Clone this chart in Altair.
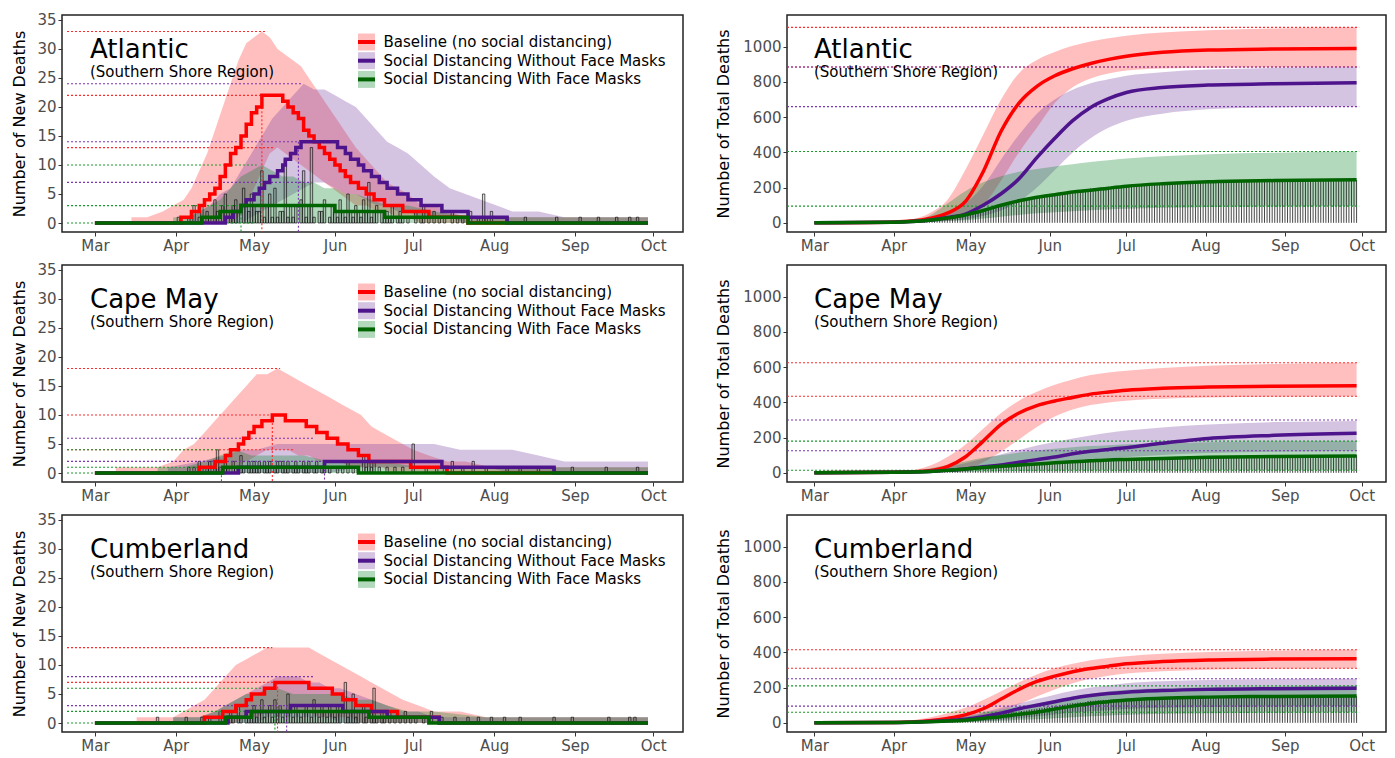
import altair as alt
import pandas as pd

# ---------------- categories / text ----------------
SCEN = ["red", "pur", "grn"]
SCEN_LABELS = ["Baseline (no social distancing)",
               "Social Distancing Without Face Masks",
               "Social Distancing With Face Masks"]
REGIONS = ["Atlantic", "Cape May", "Cumberland"]
SUBTITLE = "(Southern Shore Region)"
MONTH_TICKS = [3, 4, 5, 6, 7, 8, 9, 10]
NEW_TICKS = [0, 5, 10, 15, 20, 25, 30, 35]
TOT_TICKS = [0, 200, 400, 600, 800, 1000]

# days are counted from 1 March 2020
# ---------------- Atlantic: new deaths ----------------
ATL_RED_MED_D = [0, 33, 37, 40, 42, 44, 46, 48, 50, 52, 54, 56, 58, 60, 62, 64, 72, 74, 76, 78, 80, 82, 84, 86, 88, 90, 92, 94, 96, 98, 101, 104, 107, 111, 118, 128, 143, 212]
ATL_RED_MED_V = [0, 1, 2, 3, 4, 5, 6, 8, 10, 12, 13, 15, 17, 19, 20, 22, 21, 20, 19, 18, 16, 15, 14, 13, 12, 11, 10, 9, 8, 7, 6, 5, 4, 3, 2, 1, 0, 0]
ATL_PUR_MED_D = [0, 50, 53, 56, 58, 61, 63, 65, 67, 70, 72, 73, 75, 77, 79, 93, 96, 98, 101, 103, 106, 109, 112, 116, 120, 125, 133, 143, 158, 212]
ATL_PUR_MED_V = [0, 1, 2, 3, 4, 5, 6, 7, 8, 9, 10, 11, 12, 13, 14, 13, 12, 11, 10, 9, 8, 7, 6, 5, 4, 3, 2, 1, 0, 0]
ATL_GRN_MED_D = [0, 41, 48, 56, 92, 111, 143, 212]
ATL_GRN_MED_V = [0, 1, 2, 3, 2, 1, 0, 0]
ATL_RED_BAND_D = [14, 20, 26, 30, 34, 37, 40, 43, 46, 49, 52, 55, 58, 61, 64, 67, 70, 73, 76, 79, 82, 85, 88, 91, 94, 97, 100, 104, 108, 112, 116, 120, 125, 130, 136, 142, 150, 212]
ATL_RED_BAND_LO = [0, 0, 0, 0, 0, 0, 0, 0, 0, 0, 0, 1, 3, 6, 9, 12, 13, 12, 11, 10, 9, 8, 7, 6, 5, 4, 3, 3, 2, 2, 1, 1, 0, 0, 0, 0, 0, 0]
ATL_RED_BAND_HI = [1, 1, 2, 3, 4, 6, 9, 12, 16, 20, 24, 28, 31, 32, 33, 32, 30, 29, 28, 27, 25, 23, 21, 19, 17, 15, 13, 11, 9, 7, 6, 5, 3, 3, 2, 1, 1, 1]
ATL_PUR_BAND_D = [36, 40, 44, 48, 52, 56, 60, 64, 68, 72, 76, 80, 84, 88, 92, 96, 100, 104, 108, 112, 116, 120, 125, 130, 136, 142, 148, 154, 160, 170, 180, 190, 212]
ATL_PUR_BAND_LO = [0, 0, 0, 0, 0, 0, 1, 2, 3, 4, 5, 6, 7, 7, 6, 5, 5, 4, 3, 3, 2, 2, 1, 1, 1, 0, 0, 0, 0, 0, 0, 0, 0]
ATL_PUR_BAND_HI = [1, 2, 3, 5, 6, 9, 12, 15, 18, 20, 22, 24, 23, 23, 22, 21, 20, 18, 16, 14, 13, 12, 10, 8, 6, 5, 4, 3, 2, 2, 1, 1, 1]
ATL_GRN_BAND_D = [30, 36, 40, 44, 48, 52, 56, 60, 64, 68, 72, 76, 80, 84, 88, 92, 96, 100, 106, 112, 120, 130, 145, 212]
ATL_GRN_BAND_LO = [0, 0, 0, 0, 0, 0, 0, 0, 0, 0, 0, 0, 0, 0, 0, 0, 0, 0, 0, 0, 0, 0, 0, 0]
ATL_GRN_BAND_HI = [1, 1, 2, 3, 4, 6, 8, 9, 10, 9, 8, 8, 7, 7, 6, 6, 5, 5, 4, 3, 3, 2, 1, 1]
ATL_OBS = [(32, 1), (36, 1), (38, 3), (40, 1), (41, 3), (43, 2), (44, 1), (46, 4), (47, 2), (49, 3), (50, 5),
           (52, 2), (53, 3), (54, 4), (55, 2), (57, 6), (58, 3), (59, 2), (60, 5),
           (61, 3), (62, 2), (63, 2), (64, 9), (65, 1), (66, 3), (67, 5), (68, 1), (69, 6), (70, 1), (71, 2),
           (72, 2), (73, 11), (74, 1), (75, 3), (76, 1), (77, 3), (79, 4), (80, 9), (81, 1), (82, 3), (83, 13),
           (84, 1), (86, 2), (87, 2), (88, 4), (90, 1), (91, 3),
           (92, 2), (93, 1), (94, 4), (95, 2), (96, 1), (97, 5), (98, 2), (99, 1), (100, 3), (101, 2), (102, 1),
           (103, 4), (104, 2), (105, 7), (106, 1), (107, 2), (108, 3), (110, 2), (111, 1), (112, 2), (113, 1),
           (114, 3), (116, 1), (117, 2), (118, 1), (120, 1),
           (123, 2), (125, 1), (126, 3), (128, 1), (130, 2), (132, 1), (134, 1), (137, 2), (139, 1), (141, 1),
           (144, 2), (147, 1), (149, 5), (150, 1), (152, 2),
           (158, 1), (165, 1), (177, 1), (186, 1), (193, 1), (200, 1), (205, 1), (208, 1)]
ATL_NEW_REF_VAL = [33, 22, 13, 24, 14, 7, 10, 3, 0]
ATL_NEW_REF_END = [66, 64, 69, 79, 78, 83, 62, 57, 61]
ATL_NEW_REF_SC = ["red", "red", "red", "pur", "pur", "pur", "grn", "grn", "grn"]
ATL_PEAK_DAY = [64, 78, 56]
ATL_PEAK_VAL = [22, 14, 3]

# ---------------- Cape May: new deaths ----------------
CM_RED_MED_D = [0, 40, 46, 50, 52, 55, 57, 59, 61, 64, 68, 73, 81, 85, 89, 93, 97, 101, 105, 112, 121, 135, 212]
CM_RED_MED_V = [0, 1, 2, 3, 4, 5, 6, 7, 8, 9, 10, 9, 8, 7, 6, 5, 4, 3, 2, 2, 1, 0, 0]
CM_PUR_MED_D = [0, 55, 88, 133, 176, 212]
CM_PUR_MED_V = [0, 1, 2, 1, 0, 0]
CM_GRN_MED_D = [0, 49, 101, 212]
CM_GRN_MED_V = [0, 1, 0, 0]
CM_RED_BAND_D = [8, 16, 24, 30, 34, 38, 42, 46, 50, 54, 58, 62, 66, 70, 74, 78, 82, 86, 90, 94, 98, 102, 106, 110, 114, 118, 122, 128, 135, 142, 152, 212]
CM_RED_BAND_LO = [0, 0, 0, 0, 0, 0, 0, 0, 0, 1, 2, 3, 4, 4, 4, 3, 3, 2, 2, 2, 1, 1, 1, 1, 0, 0, 0, 0, 0, 0, 0, 0]
CM_RED_BAND_HI = [1, 1, 1, 2, 4, 5, 7, 9, 11, 13, 15, 17, 17, 18, 17, 16, 15, 14, 13, 12, 11, 10, 8, 7, 6, 5, 4, 3, 2, 2, 1, 1]
CM_PUR_BAND_D = [28, 40, 50, 56, 62, 70, 80, 90, 100, 110, 120, 130, 140, 150, 160, 170, 180, 190, 200, 212]
CM_PUR_BAND_LO = [0, 0, 0, 0, 0, 0, 0, 0, 1, 1, 1, 1, 1, 1, 0, 0, 0, 0, 0, 0]
CM_PUR_BAND_HI = [1, 2, 3, 4, 4, 5, 5, 5, 5, 5, 5, 5, 4, 4, 4, 3, 2, 2, 2, 2]
CM_GRN_BAND_D = [24, 34, 42, 48, 54, 60, 66, 72, 80, 90, 100, 110, 125, 145, 212]
CM_GRN_BAND_LO = [0, 0, 0, 0, 0, 0, 0, 0, 0, 0, 0, 0, 0, 0, 0]
CM_GRN_BAND_HI = [1, 1, 2, 3, 4, 3, 3, 3, 3, 2, 2, 2, 1, 1, 1]
CM_OBS = [(36, 1), (38, 1), (40, 2), (41, 1), (43, 1), (44, 2), (46, 1), (47, 4), (48, 1), (50, 2), (51, 1),
          (53, 2), (54, 1), (56, 3), (57, 1), (59, 2), (60, 1),
          (61, 2), (62, 1), (63, 2), (65, 2), (66, 1), (67, 2), (69, 1), (70, 2), (72, 2), (73, 1), (74, 2),
          (76, 1), (77, 2), (78, 1), (80, 2), (81, 1), (82, 2), (84, 1), (85, 2), (87, 1), (88, 2), (90, 1),
          (93, 1), (95, 1), (97, 2), (99, 1), (101, 1), (103, 3), (104, 1), (105, 2), (106, 1), (107, 2),
          (109, 1), (112, 1), (115, 1), (118, 1),
          (122, 5), (127, 1), (131, 1), (134, 1), (137, 2), (141, 1), (145, 2), (150, 1),
          (158, 1), (163, 1), (170, 1), (176, 1), (183, 1), (196, 1), (208, 1)]
CM_NEW_REF_VAL = [18, 10, 4, 6, 2, 4, 1, 0]
CM_NEW_REF_END = [71, 68, 76, 84, 88, 48, 48, 48]
CM_NEW_REF_SC = ["red", "red", "red", "pur", "pur", "grn", "grn", "grn"]
CM_PEAK_DAY = [68, 88, 48.5]
CM_PEAK_VAL = [10, 2, 1]

# ---------------- Cumberland: new deaths ----------------
CU_RED_MED_D = [0, 42, 49, 54, 58, 60, 65, 69, 82, 91, 95, 100, 106, 116, 132, 212]
CU_RED_MED_V = [0, 1, 2, 3, 4, 5, 6, 7, 6, 5, 4, 3, 2, 1, 0, 0]
CU_PUR_MED_D = [0, 51, 58, 75, 95, 112, 132, 212]
CU_PUR_MED_V = [0, 1, 2, 3, 2, 1, 0, 0]
CU_GRN_MED_D = [0, 50, 60, 105, 128, 212]
CU_GRN_MED_V = [0, 1, 2, 1, 0, 0]
CU_RED_BAND_D = [16, 24, 30, 34, 38, 42, 46, 50, 54, 58, 62, 66, 70, 74, 78, 82, 86, 90, 94, 98, 102, 106, 110, 114, 118, 124, 130, 140, 150, 212]
CU_RED_BAND_LO = [0, 0, 0, 0, 0, 0, 0, 0, 0, 1, 1, 2, 2, 2, 2, 2, 1, 1, 1, 1, 0, 0, 0, 0, 0, 0, 0, 0, 0, 0]
CU_RED_BAND_HI = [1, 1, 1, 2, 3, 4, 6, 8, 10, 11, 12, 13, 13, 13, 13, 13, 12, 11, 10, 9, 8, 7, 6, 5, 4, 3, 2, 2, 1, 1]
CU_PUR_BAND_D = [30, 40, 46, 50, 54, 58, 62, 66, 70, 74, 78, 82, 86, 90, 94, 100, 106, 112, 118, 124, 130, 140, 150, 160, 212]
CU_PUR_BAND_LO = [0, 0, 0, 0, 0, 0, 0, 1, 1, 1, 1, 1, 1, 1, 0, 0, 0, 0, 0, 0, 0, 0, 0, 0, 0]
CU_PUR_BAND_HI = [1, 1, 2, 3, 4, 5, 6, 7, 8, 8, 8, 7, 7, 6, 6, 5, 4, 3, 2, 2, 1, 1, 1, 1, 1]
CU_GRN_BAND_D = [30, 40, 46, 50, 54, 58, 62, 66, 70, 76, 82, 88, 94, 100, 106, 112, 120, 130, 150, 180, 212]
CU_GRN_BAND_LO = [0, 0, 0, 0, 0, 0, 0, 0, 0, 0, 0, 0, 0, 0, 0, 0, 0, 0, 0, 0, 0]
CU_GRN_BAND_HI = [1, 1, 2, 3, 4, 5, 5, 6, 6, 5, 5, 5, 5, 4, 4, 3, 2, 2, 1, 1, 1]
CU_OBS = [(24, 1), (35, 1), (41, 1), (44, 1), (48, 2), (50, 1), (52, 2), (53, 1), (55, 3), (56, 1), (58, 2),
          (59, 1), (60, 2),
          (61, 3), (62, 1), (63, 2), (64, 4), (65, 1), (66, 2), (67, 3), (68, 1), (69, 4), (70, 2), (71, 3),
          (72, 1), (73, 2), (74, 5), (75, 2), (76, 1), (77, 3), (78, 2), (79, 1), (80, 2), (81, 3), (82, 2),
          (83, 1), (84, 4), (85, 2), (86, 1), (87, 3), (88, 2), (89, 1), (90, 3), (91, 2),
          (92, 1), (93, 3), (94, 2), (96, 7), (97, 1), (98, 2), (99, 5), (100, 1), (101, 2), (103, 3),
          (104, 1), (106, 2), (107, 6), (108, 1), (110, 2), (111, 1), (113, 2), (115, 1), (117, 1), (119, 2),
          (121, 1),
          (123, 1), (126, 1), (129, 2), (133, 1), (138, 1), (143, 1), (147, 1), (152, 1),
          (157, 1), (163, 1), (176, 1), (183, 1), (197, 1), (205, 1), (207, 1)]
CU_NEW_REF_VAL = [13, 7, 8, 3, 6, 2, 0]
CU_NEW_REF_END = [68, 70, 84, 74, 69, 69, 51]
CU_NEW_REF_SC = ["red", "red", "pur", "pur", "grn", "grn", "grn"]
CU_PEAK_DAY = [70, 73.5, 69]
CU_PEAK_VAL = [7, 3, 2]

# ---------------- total deaths (weekly knots) ----------------
TOT_D = [0, 31, 38, 45, 52, 59, 66, 73, 80, 87, 94, 101, 108, 115, 122, 136, 154, 180, 212]

ATL_TOT_RED_MED = [0, 5, 10, 25, 55, 120, 290, 520, 680, 775, 835, 875, 905, 928, 946, 968, 981, 987, 990]
ATL_TOT_RED_LO = [0, 2, 5, 10, 15, 40, 100, 240, 400, 540, 680, 770, 820, 848, 865, 876, 881, 884, 885]
ATL_TOT_RED_HI = [0, 10, 20, 55, 130, 300, 500, 700, 850, 925, 970, 1005, 1030, 1048, 1062, 1080, 1094, 1104, 1110]
ATL_TOT_PUR_MED = [0, 3, 7, 15, 30, 50, 100, 165, 250, 370, 480, 580, 655, 705, 740, 768, 782, 790, 795]
ATL_TOT_PUR_LO = [0, 0, 2, 5, 10, 20, 40, 70, 120, 200, 300, 400, 480, 540, 580, 620, 645, 655, 660]
ATL_TOT_PUR_HI = [0, 8, 15, 30, 60, 110, 210, 360, 500, 620, 700, 755, 792, 815, 835, 855, 870, 880, 885]
ATL_TOT_GRN_MED = [0, 3, 7, 15, 28, 45, 70, 100, 125, 145, 160, 175, 185, 197, 208, 222, 233, 240, 245]
ATL_TOT_GRN_LO = [0, 0, 2, 5, 10, 15, 25, 35, 45, 55, 60, 66, 72, 76, 80, 85, 90, 93, 95]
ATL_TOT_GRN_HI = [0, 5, 10, 40, 110, 180, 230, 265, 290, 305, 320, 333, 345, 355, 365, 378, 390, 398, 405]
ATL_TOT_REF_VAL = [1110, 885, 885, 660, 405, 95]

CM_TOT_RED_MED = [0, 3, 6, 12, 35, 90, 180, 275, 340, 382, 408, 428, 447, 459, 469, 480, 487, 492, 495]
CM_TOT_RED_LO = [0, 1, 2, 4, 8, 20, 60, 120, 190, 260, 320, 360, 385, 400, 410, 420, 428, 432, 435]
CM_TOT_RED_HI = [0, 8, 15, 40, 90, 160, 250, 340, 410, 460, 500, 530, 555, 570, 580, 595, 608, 618, 625]
CM_TOT_PUR_MED = [0, 3, 5, 8, 14, 22, 35, 45, 60, 75, 90, 108, 122, 133, 143, 168, 195, 213, 225]
CM_TOT_PUR_LO = [0, 0, 1, 2, 5, 10, 18, 25, 35, 45, 55, 65, 75, 82, 90, 102, 113, 120, 125]
CM_TOT_PUR_HI = [0, 5, 10, 20, 35, 55, 80, 105, 130, 155, 175, 195, 212, 228, 240, 258, 275, 288, 295]
CM_TOT_GRN_MED = [0, 3, 5, 8, 14, 22, 30, 37, 44, 50, 57, 63, 68, 73, 76, 82, 88, 93, 96]
CM_TOT_GRN_LO = [0, 0, 1, 2, 3, 5, 7, 9, 10, 11, 12, 13, 13, 14, 14, 15, 15, 15, 15]
CM_TOT_GRN_HI = [0, 5, 12, 25, 45, 65, 85, 100, 115, 127, 137, 145, 152, 157, 162, 168, 174, 178, 180]
CM_TOT_REF_VAL = [625, 435, 300, 125, 180, 15]

CU_TOT_RED_MED = [0, 2, 5, 12, 25, 45, 80, 135, 190, 235, 265, 290, 308, 322, 335, 348, 357, 362, 364]
CU_TOT_RED_LO = [0, 0, 1, 4, 8, 15, 35, 65, 105, 150, 190, 225, 250, 268, 280, 293, 302, 307, 310]
CU_TOT_RED_HI = [0, 8, 15, 30, 55, 85, 130, 180, 230, 275, 310, 335, 355, 368, 378, 392, 402, 410, 415]
CU_TOT_PUR_MED = [0, 2, 4, 8, 12, 20, 35, 55, 80, 100, 120, 140, 155, 166, 174, 183, 190, 194, 196]
CU_TOT_PUR_LO = [0, 0, 1, 2, 3, 5, 10, 18, 28, 38, 48, 58, 66, 72, 78, 85, 90, 93, 95]
CU_TOT_PUR_HI = [0, 5, 10, 20, 30, 40, 60, 85, 110, 135, 160, 182, 200, 214, 225, 236, 243, 248, 250]
CU_TOT_GRN_MED = [0, 2, 4, 6, 10, 15, 25, 35, 48, 60, 78, 95, 110, 120, 130, 140, 146, 150, 152]
CU_TOT_GRN_LO = [0, 0, 1, 2, 3, 3, 7, 12, 17, 20, 26, 32, 37, 42, 46, 51, 55, 58, 60]
CU_TOT_GRN_HI = [0, 5, 8, 12, 22, 35, 55, 75, 95, 110, 130, 150, 165, 178, 188, 197, 203, 207, 210]
CU_TOT_REF_VAL = [415, 310, 250, 95, 210, 60]

TOT_REF_SC = ["red", "red", "pur", "pur", "grn", "grn"]
LAST_DAY = 212

# ---------------- styles ----------------
LINE_COL = {"red": "#FF0000", "pur": "#4E148C", "grn": "#006400"}
BAND_COL = {"red": "#FF0000", "pur": "#73379E", "grn": "#028026"}
BAND_OP = {"red": 0.25, "pur": 0.3, "grn": 0.3}
REF_SCALE = alt.Scale(domain=SCEN, range=["#FF2A2A", "#7A35B0", "#169A2A"])
FONT = "DejaVu Sans"
PW_L, PW_R, PH = 621, 599, 217

BASE = pd.Timestamp("2020-03-01")
XS_START = alt.DateTime(year=2020, month=2, date=19, hours=7, minutes=12)
XS_END = alt.DateTime(year=2020, month=10, date=10, hours=12)
START_EXPR = "datetime(2020, 1, 19, 7, 12)"      # left edge of the frame (month is 0-based)
REF_END_EXPR = "datetime(2020, 8, 30)"           # end of the simulated period
XSCALE = alt.Scale(domain=[XS_START, XS_END])
XAXIS = alt.Axis(values=[alt.DateTime(year=2020, month=m, date=1) for m in MONTH_TICKS],
                 format="%b", formatType="time", title=None, labelFlush=False, labelOverlap=False)
YS_NEW = alt.Scale(domain=[-1.55, 35.85], nice=False, zero=False)
YS_TOT = alt.Scale(domain=[-52, 1180], nice=False, zero=False)
YAX_NEW = alt.Axis(values=NEW_TICKS, format="d", title="Number of New Deaths", titleX=-43, titleY=PH / 2,
                   titleAngle=270, titleAlign="center", titleBaseline="middle")
YAX_TOT = alt.Axis(values=TOT_TICKS, format="d", title="Number of Total Deaths", titleX=-64, titleY=PH / 2,
                   titleAngle=270, titleAlign="center", titleBaseline="middle")
ONE = pd.DataFrame({"k": [0]})
COLOR = alt.Color("scen:N", scale=REF_SCALE, legend=None)


def to_dates(days):
    return [BASE + pd.Timedelta(days=float(d)) for d in days]


def X(field="date"):
    return alt.X(f"{field}:T", scale=XSCALE, axis=XAXIS)


def titles(name, x0):
    return [
        alt.Chart(ONE).mark_text(align="left", baseline="alphabetic", fontSize=26, font=FONT, color="black")
        .encode(x=alt.value(x0), y=alt.value(42.5), text=alt.value(name)),
        alt.Chart(ONE).mark_text(align="left", baseline="alphabetic", fontSize=15, font=FONT, color="black")
        .encode(x=alt.value(x0), y=alt.value(62), text=alt.value(SUBTITLE)),
    ]


def legend():
    out = []
    for i, s in enumerate(SCEN):
        yc = 27 + i * 18.7
        out.append(alt.Chart(ONE).mark_rect(color=BAND_COL[s], opacity=BAND_OP[s])
                   .encode(x=alt.value(296), x2=alt.value(313), y=alt.value(yc - 8.5), y2=alt.value(yc + 8.5)))
        out.append(alt.Chart(ONE).mark_rule(color=LINE_COL[s], strokeWidth=4)
                   .encode(x=alt.value(296), x2=alt.value(313), y=alt.value(yc)))
        out.append(alt.Chart(ONE).mark_text(align="left", baseline="middle", fontSize=15, font=FONT, color="black")
                   .encode(x=alt.value(321.5), y=alt.value(yc), text=alt.value(SCEN_LABELS[i])))
    return out


def new_panel(name, meds, bands, obs, refs, peaks):
    Y = lambda f: alt.Y(f"{f}:Q", scale=YS_NEW, axis=YAX_NEW)
    layers = []
    for s in SCEN:
        d, lo, hi = bands[s]
        df = pd.DataFrame({"date": to_dates(d), "lo": lo, "hi": hi})
        layers.append(alt.Chart(df).mark_area(interpolate="linear", color=BAND_COL[s], opacity=BAND_OP[s])
                      .encode(x=X(), y=Y("lo"), y2="hi:Q"))
    odf = pd.DataFrame(obs, columns=["day", "n"])
    odf["date"] = to_dates(odf["day"])
    layers.append(alt.Chart(odf).transform_calculate(base="0")
                  .mark_bar(size=2.4, fill="#909090", fillOpacity=0.25, stroke="black",
                            strokeWidth=0.7, strokeOpacity=0.9)
                  .encode(x=X(), y=Y("n"), y2="base:Q"))
    rv, re_, rs = refs
    rdf = pd.DataFrame({"val": rv, "end": to_dates(re_), "scen": rs})
    layers.append(alt.Chart(rdf).transform_calculate(start=START_EXPR)
                  .mark_rule(strokeDash=[2, 2], strokeWidth=1.1)
                  .encode(x=X("start"), x2="end:T", y=Y("val"), color=COLOR))
    pd_, pv = peaks
    pdf = pd.DataFrame({"date": to_dates(pd_), "val": pv, "scen": SCEN})
    layers.append(alt.Chart(pdf).transform_calculate(bottom="-1.55")
                  .mark_rule(strokeDash=[2, 2], strokeWidth=1.1)
                  .encode(x=X(), y=Y("val"), y2="bottom:Q", color=COLOR))
    for s in SCEN:
        d, v = meds[s]
        df = pd.DataFrame({"date": to_dates(d), "v": v})
        layers.append(alt.Chart(df).mark_line(interpolate="step-after", color=LINE_COL[s], strokeWidth=3.5)
                      .encode(x=X(), y=Y("v")))
    layers += titles(name, 28)
    layers += legend()
    return alt.layer(*layers).properties(width=PW_L, height=PH)


def tot_panel(name, series, obs, ref_vals):
    Y = lambda f: alt.Y(f"{f}:Q", scale=YS_TOT, axis=YAX_TOT)
    layers = []
    dates = to_dates(TOT_D)
    for s in SCEN:
        med, lo, hi = series[s]
        df = pd.DataFrame({"date": dates, "lo": lo, "hi": hi})
        layers.append(alt.Chart(df).mark_area(interpolate="monotone", color=BAND_COL[s], opacity=BAND_OP[s])
                      .encode(x=X(), y=Y("lo"), y2="hi:Q"))
    daily = pd.DataFrame({"day": list(range(LAST_DAY + 1))})
    o = dict(obs)
    daily["n"] = [o.get(d, 0) for d in daily["day"]]
    daily["date"] = to_dates(daily["day"])
    layers.append(alt.Chart(daily)
                  .transform_window(cum="sum(n)", sort=[alt.SortField("day")], frame=[None, 0])
                  .transform_filter("datum.cum > 0")
                  .transform_calculate(base="0")
                  .mark_rule(color="black", strokeWidth=0.8, opacity=0.9)
                  .encode(x=X(), y=Y("cum"), y2="base:Q"))
    rdf = pd.DataFrame({"val": ref_vals, "scen": TOT_REF_SC})
    layers.append(alt.Chart(rdf).transform_calculate(start=START_EXPR, end=REF_END_EXPR)
                  .mark_rule(strokeDash=[2, 2], strokeWidth=1.1)
                  .encode(x=X("start"), x2="end:T", y=Y("val"), color=COLOR))
    for s in SCEN:
        med, lo, hi = series[s]
        df = pd.DataFrame({"date": dates, "v": med})
        layers.append(alt.Chart(df).mark_line(interpolate="monotone", color=LINE_COL[s], strokeWidth=3.5)
                      .encode(x=X(), y=Y("v")))
    layers += titles(name, 27)
    return alt.layer(*layers).properties(width=PW_R, height=PH)


rows = []
rows.append(alt.hconcat(
    new_panel("Atlantic",
              {"red": (ATL_RED_MED_D, ATL_RED_MED_V), "pur": (ATL_PUR_MED_D, ATL_PUR_MED_V),
               "grn": (ATL_GRN_MED_D, ATL_GRN_MED_V)},
              {"red": (ATL_RED_BAND_D, ATL_RED_BAND_LO, ATL_RED_BAND_HI),
               "pur": (ATL_PUR_BAND_D, ATL_PUR_BAND_LO, ATL_PUR_BAND_HI),
               "grn": (ATL_GRN_BAND_D, ATL_GRN_BAND_LO, ATL_GRN_BAND_HI)},
              ATL_OBS, (ATL_NEW_REF_VAL, ATL_NEW_REF_END, ATL_NEW_REF_SC), (ATL_PEAK_DAY, ATL_PEAK_VAL)),
    tot_panel("Atlantic",
              {"red": (ATL_TOT_RED_MED, ATL_TOT_RED_LO, ATL_TOT_RED_HI),
               "pur": (ATL_TOT_PUR_MED, ATL_TOT_PUR_LO, ATL_TOT_PUR_HI),
               "grn": (ATL_TOT_GRN_MED, ATL_TOT_GRN_LO, ATL_TOT_GRN_HI)},
              ATL_OBS, ATL_TOT_REF_VAL),
    spacing=104, bounds="flush"))
rows.append(alt.hconcat(
    new_panel("Cape May",
              {"red": (CM_RED_MED_D, CM_RED_MED_V), "pur": (CM_PUR_MED_D, CM_PUR_MED_V),
               "grn": (CM_GRN_MED_D, CM_GRN_MED_V)},
              {"red": (CM_RED_BAND_D, CM_RED_BAND_LO, CM_RED_BAND_HI),
               "pur": (CM_PUR_BAND_D, CM_PUR_BAND_LO, CM_PUR_BAND_HI),
               "grn": (CM_GRN_BAND_D, CM_GRN_BAND_LO, CM_GRN_BAND_HI)},
              CM_OBS, (CM_NEW_REF_VAL, CM_NEW_REF_END, CM_NEW_REF_SC), (CM_PEAK_DAY, CM_PEAK_VAL)),
    tot_panel("Cape May",
              {"red": (CM_TOT_RED_MED, CM_TOT_RED_LO, CM_TOT_RED_HI),
               "pur": (CM_TOT_PUR_MED, CM_TOT_PUR_LO, CM_TOT_PUR_HI),
               "grn": (CM_TOT_GRN_MED, CM_TOT_GRN_LO, CM_TOT_GRN_HI)},
              CM_OBS, CM_TOT_REF_VAL),
    spacing=104, bounds="flush"))
rows.append(alt.hconcat(
    new_panel("Cumberland",
              {"red": (CU_RED_MED_D, CU_RED_MED_V), "pur": (CU_PUR_MED_D, CU_PUR_MED_V),
               "grn": (CU_GRN_MED_D, CU_GRN_MED_V)},
              {"red": (CU_RED_BAND_D, CU_RED_BAND_LO, CU_RED_BAND_HI),
               "pur": (CU_PUR_BAND_D, CU_PUR_BAND_LO, CU_PUR_BAND_HI),
               "grn": (CU_GRN_BAND_D, CU_GRN_BAND_LO, CU_GRN_BAND_HI)},
              CU_OBS, (CU_NEW_REF_VAL, CU_NEW_REF_END, CU_NEW_REF_SC), (CU_PEAK_DAY, CU_PEAK_VAL)),
    tot_panel("Cumberland",
              {"red": (CU_TOT_RED_MED, CU_TOT_RED_LO, CU_TOT_RED_HI),
               "pur": (CU_TOT_PUR_MED, CU_TOT_PUR_LO, CU_TOT_PUR_HI),
               "grn": (CU_TOT_GRN_MED, CU_TOT_GRN_LO, CU_TOT_GRN_HI)},
              CU_OBS, CU_TOT_REF_VAL),
    spacing=104, bounds="flush"))

chart = (alt.vconcat(*rows, spacing=8)
         .properties(padding={"left": 10, "top": 12, "right": 5, "bottom": 5}, background="white")
         .configure_view(stroke="#222222", strokeWidth=1.5)
         .configure_axis(grid=False, domain=False, tickColor="#333333", tickSize=4, tickWidth=1,
                         labelColor="#4D4D4D", labelFont=FONT, labelFontSize=15, labelPadding=2,
                         titleFont=FONT, titleFontSize=16, titleFontWeight="normal", titleColor="black"))

chart.save("out.html", embed_options={"renderer": "svg", "actions": False})
